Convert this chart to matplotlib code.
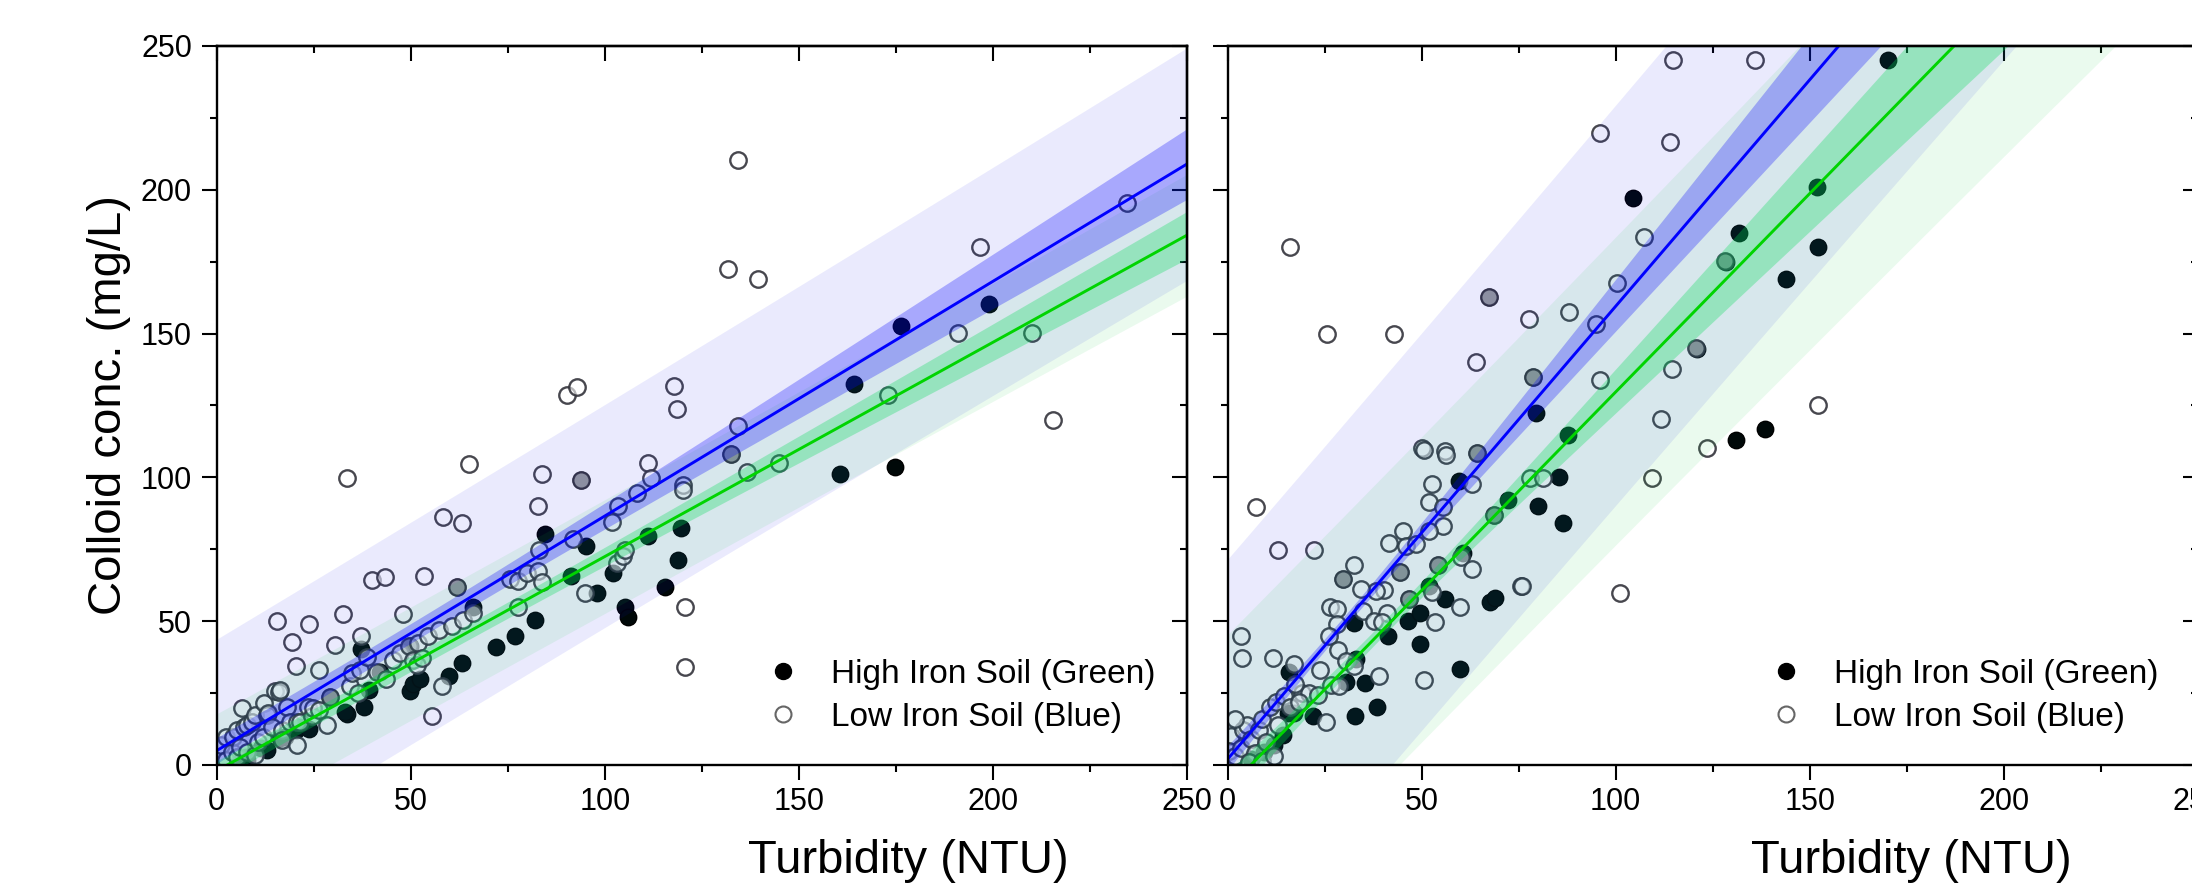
import numpy as np
import matplotlib
matplotlib.use("Agg")
import matplotlib.pyplot as plt
from matplotlib.ticker import MultipleLocator
from matplotlib.lines import Line2D

plt.rcParams['font.family'] = ['Liberation Sans', 'DejaVu Sans']

# ---------------- data ----------------
# Left panel
left_high_x = [5.4, 7.7, 7.4, 11.4, 12.9, 16.3, 17.6, 20.3, 21.5, 23.8, 33.5, 33.1, 37.8, 39.1,
               42.1, 37.1, 49.8, 50.6, 52.4, 59.7, 63.1, 71.9, 76.7, 82.0, 66.1, 49.8, 84.5,
               95.1, 91.2, 97.9, 102.0, 105.2, 106.0, 111.2, 115.5, 118.9, 119.6, 160.5, 174.7,
               164.1, 176.2, 198.9, 62.0, 93.8, 132.4, 29.2]
left_high_y = [0.6, 1.7, 2.9, 5.8, 5.2, 9.3, 9.9, 12.2, 13.3, 12.4, 17.7, 18.5, 20.3, 26.1,
               32.5, 40.3, 25.8, 28.2, 30.0, 31.0, 35.6, 41.0, 44.7, 50.5, 55.1, 41.2, 80.3,
               76.0, 65.8, 59.7, 66.9, 54.9, 51.6, 79.7, 61.8, 71.3, 82.3, 101.2, 103.7,
               132.4, 152.7, 160.2, 61.8, 99.1, 108.3, 23.8]
left_low_x = [1.2, 2.5, 2.5, 3.8, 4.3, 5.1, 5.1, 6.0, 6.4, 6.9, 7.7, 7.7, 9.0, 9.8, 9.9, 10.7,
              12.0, 12.1, 12.9, 13.2, 14.1, 15.0, 15.5, 15.9, 16.3, 16.7, 16.7, 18.0, 18.9, 19.3,
              20.3, 20.6, 20.6, 21.5, 23.6, 23.8, 24.5, 24.9, 26.4, 26.4, 28.3, 29.2, 30.5, 32.4,
              33.5, 34.3, 34.8, 36.5, 36.9, 37.1, 38.6, 39.9, 41.2, 43.3, 43.6, 45.5, 47.2, 47.9,
              49.4, 50.6, 51.5, 51.9, 52.8, 53.4, 54.5, 55.4, 57.3, 57.9, 58.4, 60.5, 62.0, 63.3,
              63.5, 65.0, 66.1, 75.5, 77.7, 77.7, 79.8, 82.8, 82.8, 83.1, 83.7, 83.9, 90.1, 91.8,
              92.7, 93.8, 94.8, 101.7, 103.0, 103.4, 104.7, 105.2, 108.2, 111.2, 111.8, 117.9,
              118.5, 120.0, 120.2, 120.6, 120.6, 132.4, 134.2, 134.3, 131.6, 136.5, 139.4, 144.9,
              172.8, 191.0, 196.7, 210.0, 215.4, 234.5]
left_low_y = [6.9, 1.7, 9.9, 4.6, 9.9, 2.9, 12.2, 6.4, 19.8, 13.3, 4.6, 13.9, 15.1, 17.4, 3.5, 8.1,
              9.9, 21.4, 17.4, 18.0, 13.3, 25.6, 50.1, 25.5, 26.1, 12.2, 8.7, 20.3, 15.1, 42.9,
              34.5, 6.8, 15.1, 15.1, 20.3, 49.1, 16.9, 19.7, 32.9, 19.2, 13.9, 23.8, 41.8, 52.4,
              99.7, 27.3, 31.9, 25.0, 33.1, 44.9, 37.7, 64.4, 32.2, 65.5, 29.9, 36.6, 38.9, 52.4,
              41.2, 36.6, 34.8, 42.4, 37.1, 65.8, 44.9, 17.1, 47.0, 27.5, 86.2, 48.4, 61.8, 84.1,
              50.5, 104.7, 52.8, 64.6, 63.8, 54.8, 66.9, 67.3, 89.9, 74.8, 63.5, 101.2, 128.7, 78.5,
              131.3, 99.1, 59.7, 84.6, 70.2, 89.9, 72.5, 74.8, 94.5, 104.9, 99.7, 131.6,
              123.7, 97.4, 95.7, 54.8, 34.0, 108.3, 118.0, 210.3, 172.6, 101.8, 168.9, 104.9,
              128.6, 150.2, 180.1, 150.2, 120.1, 195.3]

# Right panel
right_high_x = [6.0, 9.5, 12.0, 14.2, 15.5, 17.2, 21.9, 32.9, 38.4, 30.5, 35.5, 33.1, 41.4, 46.4,
                49.6, 49.7, 52.0, 56.1, 59.9, 60.6, 54.1, 67.6, 69.0, 59.7, 72.3, 79.5, 80.0,
                85.3, 86.5, 87.6, 104.5, 131.0, 131.8, 138.4, 143.9, 151.8, 152.0, 170.2, 67.4,
                121.0, 128.3, 78.8, 29.8, 44.4, 68.6, 46.8, 64.4, 32.6, 15.9]
right_high_y = [2.0, 4.5, 7.0, 10.5, 18.0, 18.0, 17.1, 16.9, 20.1, 29.0, 28.5, 36.8, 44.7, 49.9,
                42.1, 52.8, 62.1, 57.8, 33.3, 73.6, 69.6, 56.5, 58.0, 98.6, 92.2, 122.4, 89.9,
                100.3, 84.3, 114.8, 197.0, 113.1, 185.0, 116.7, 169.0, 201.0, 180.0, 245.1, 162.6,
                144.8, 175.0, 134.9, 64.6, 67.0, 87.0, 57.8, 108.5, 49.3, 32.3]
right_low_x = [7.3, 16.0, 25.5, 42.9, 50.1, 55.9, 50.7, 56.3, 64.4, 63.9, 67.4, 77.7, 78.7, 88.0,
               95.0, 96.0, 95.9, 100.4, 107.2, 111.8, 114.7, 113.9, 114.4, 120.7, 123.4, 128.2,
               135.8, 152.0, 109.3, 101.1, 75.7, 77.8, 81.2, 52.8, 63.0, 52.0, 55.6, 55.4, 52.0,
               45.1, 41.7, 46.0, 48.5, 12.9, 22.2, 32.6, 29.8, 44.4, 68.6, 60.1, 63.1, 54.1, 75.9,
               60.0, 53.4, 46.8, 52.8, 40.2, 38.2, 34.5, 26.5, 28.3, 35.0, 41.0, 37.8, 39.8, 28.1,
               26.2, 28.4, 3.4, 3.7, 11.6, 17.2, 30.5, 32.6, 23.9, 39.1, 50.7, 26.6, 28.8, 19.3,
               21.0, 23.2, 25.3, 1.0, 0.5, 2.0, 3.5, 4.0, 5.0, 6.0, 7.0, 8.0, 9.0, 10.0, 11.0, 12.5,
               13.0, 14.5, 16.0, 17.5, 18.5, 2.0, 5.5, 9.0, 12.0]
right_low_y = [89.6, 180.0, 150.0, 150.0, 110.2, 109.0, 109.6, 107.8, 108.5, 140.1, 162.6, 155.0,
               135.0, 157.6, 153.5, 219.9, 133.8, 167.6, 183.5, 120.3, 245.1, 216.6, 137.6, 145.1,
               110.2, 175.1, 245.1, 125.0, 99.7, 59.7, 62.2, 99.7, 99.7, 97.6, 97.6, 91.3, 89.6,
               83.2, 81.2, 81.4, 77.1, 76.3, 76.8, 74.6, 74.6, 69.6, 64.6, 67.0, 87.0, 72.3, 68.2,
               69.6, 62.3, 54.8, 49.7, 57.8, 60.1, 60.9, 60.6, 61.1, 54.8, 54.2, 53.7, 53.0, 49.9,
               49.7, 49.1, 44.7, 40.0, 44.7, 37.1, 37.1, 35.1, 36.0, 34.5, 33.1, 31.0, 29.6, 27.9,
               27.3, 25.0, 25.2, 24.4, 14.8, 10.0, 5.0, 3.0, 6.0, 12.0, 14.0, 9.0, 4.0, 12.0, 16.0,
               8.0, 20.0, 22.0, 14.0, 24.0, 20.0, 28.0, 22.0, 16.0, 1.0, 1.5, 3.0]

# Fit results: [intercept, slope]; confidence [a, b, x_mean]; prediction spread
left_blue_fit = [5.0, 0.816]
left_blue_conf = [3.4, 0.059, 50.0]
left_blue_pred = 38.5
left_green_fit = [-2.0, 0.745]
left_green_conf = [2.7, 0.040, 55.0]
left_green_pred = 19.5
right_blue_fit = [2.0, 1.575]
right_blue_conf = [2.0, 0.125, 30.0]
right_blue_pred = 69.0
right_green_fit = [-8.3, 1.38]
right_green_conf = [2.5, 0.12, 40.0]
right_green_pred = 53.0

x_ticks = [0, 50, 100, 150, 200, 250]
legend_labels = ["High Iron Soil (Green)", "Low Iron Soil (Blue)"]
x_label = "Turbidity (NTU)"
y_label = "Colloid conc. (mg/L)"

LABEL_FAMILY = ['Liberation Sans', 'DejaVu Sans']
LABEL_SIZE = 34

# ---------------- drawing ----------------
BLUE = '#0000ff'
GREEN = '#00d400'


def band(xs, fit, conf, pred):
    y = fit[0] + fit[1] * xs
    c = np.sqrt(conf[0] ** 2 + (conf[1] * (xs - conf[2])) ** 2)
    p = np.sqrt(pred ** 2 + c ** 2)
    return y, c, p


def panel(ax, hx, hy, lx, ly, bfit, bconf, bpred, gfit, gconf, gpred):
    ax.scatter(hx, hy, s=140, facecolors='#000808', edgecolors='#000000',
               linewidths=1.0, zorder=2)
    ax.scatter(lx, ly, s=140, facecolors=[(1, 1, 1, 0.6)],
               edgecolors=[(0.2, 0.2, 0.23, 0.9)], linewidths=1.7, zorder=3)
    xs = np.linspace(0, 250, 400)
    yb, cb, pb = band(xs, bfit, bconf, bpred)
    yg, cg, pg = band(xs, gfit, gconf, gpred)
    ax.fill_between(xs, yb - pb, yb + pb, color='#1010ee', alpha=0.085, lw=0, zorder=4)
    ax.fill_between(xs, yg - pg, yg + pg, color='#10c840', alpha=0.085, lw=0, zorder=4)
    ax.fill_between(xs, yb - cb, yb + cb, color=BLUE, alpha=0.28, lw=0, zorder=5)
    ax.fill_between(xs, yg - cg, yg + cg, color='#00dd55', alpha=0.30, lw=0, zorder=5)
    ax.plot(xs, yb, color=BLUE, lw=2.1, zorder=6)
    ax.plot(xs, yg, color=GREEN, lw=2.1, zorder=6)

    ax.set_xlim(0, 250)
    ax.set_ylim(0, 250)
    ax.set_xticks(x_ticks)
    ax.set_yticks(x_ticks)
    ax.xaxis.set_minor_locator(MultipleLocator(25))
    ax.yaxis.set_minor_locator(MultipleLocator(25))
    ax.tick_params(which='major', direction='out', length=10.8, width=1.5, labelsize=22,
                   top=False, right=False)
    ax.tick_params(axis='x', which='major', pad=5)
    ax.tick_params(axis='y', which='major', pad=7)
    ax.tick_params(which='minor', direction='out', length=5, width=1.5, top=False, right=False)
    for sp in ax.spines.values():
        sp.set_linewidth(1.7)
        sp.set_zorder(10)

    top = ax.secondary_xaxis('top')
    top.set_xticks(x_ticks)
    top.xaxis.set_minor_locator(MultipleLocator(25))
    top.tick_params(which='major', direction='in', length=10.8, width=1.5, labeltop=False)
    top.tick_params(which='minor', direction='in', length=5, width=1.5)
    top.spines['top'].set_linewidth(1.7)
    right = ax.secondary_yaxis('right')
    right.set_yticks(x_ticks)
    right.yaxis.set_minor_locator(MultipleLocator(25))
    right.tick_params(which='major', direction='in', length=10.8, width=1.5, labelright=False)
    right.tick_params(which='minor', direction='in', length=5, width=1.5)
    right.spines['right'].set_linewidth(1.7)


def legend(ax, x0):
    handles = [
        Line2D([], [], ls='none', marker='o', markersize=11.5, markerfacecolor='black',
               markeredgecolor='black'),
        Line2D([], [], ls='none', marker='o', markersize=11.5, markerfacecolor='white',
               markeredgecolor='#666666', markeredgewidth=1.5),
    ]
    ax.legend(handles, legend_labels, loc='center left', bbox_to_anchor=(x0, 0.096),
              frameon=False, fontsize=24, handlelength=1.0, handletextpad=0.95,
              labelspacing=0.36, borderpad=0.0, borderaxespad=0.0)


fig = plt.figure(figsize=(21.92, 8.94), dpi=100)
ax1 = fig.add_axes([0.0989, 0.1443, 0.4427, 0.8043])
ax2 = fig.add_axes([0.5600, 0.1443, 0.4427, 0.8043])

panel(ax1, left_high_x, left_high_y, left_low_x, left_low_y,
      left_blue_fit, left_blue_conf, left_blue_pred,
      left_green_fit, left_green_conf, left_green_pred)
panel(ax2, right_high_x, right_high_y, right_low_x, right_low_y,
      right_blue_fit, right_blue_conf, right_blue_pred,
      right_green_fit, right_green_conf, right_green_pred)
ax2.tick_params(axis='y', labelleft=False)

ax1.set_ylabel(y_label, fontsize=LABEL_SIZE, family=LABEL_FAMILY)
ax1.yaxis.set_label_coords(-0.088, 0.5)
ax1.set_xlabel(x_label, fontsize=LABEL_SIZE, family=LABEL_FAMILY)
ax1.xaxis.set_label_coords(0.713, -0.103)
ax2.set_xlabel(x_label, fontsize=LABEL_SIZE, family=LABEL_FAMILY)
ax2.xaxis.set_label_coords(0.705, -0.103)

legend(ax1, 0.566)
legend(ax2, 0.558)

fig.savefig('out.png', dpi=100, facecolor='white')
